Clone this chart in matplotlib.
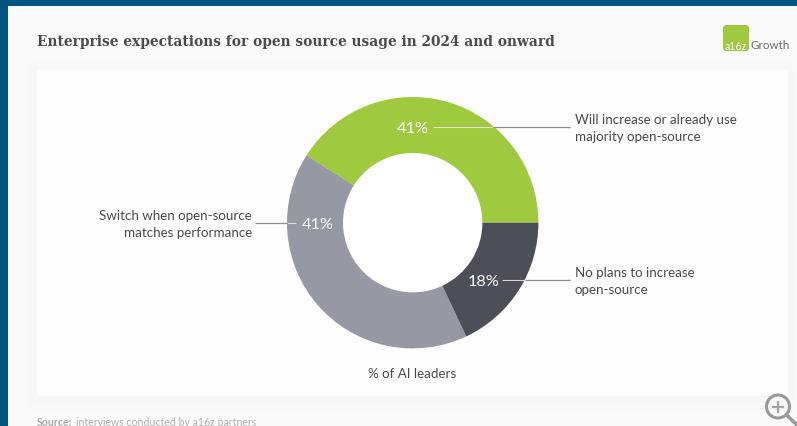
import matplotlib.pyplot as plt
from matplotlib.patches import Circle, FancyBboxPatch, Rectangle

# ---- data ----
CATEGORIES = [
    "Will increase or already use\nmajority open-source",
    "Switch when open-source\nmatches performance",
    "No plans to increase\nopen-source",
]
VALUES = [41, 41, 18]
COLORS = ["#9FC93F", "#9698A3", "#4D4F58"]

TITLE = "Enterprise expectations for open source usage in 2024 and onward"
AXIS_NOTE = "% of AI leaders"

# ---- style ----
W, H = 797, 427
BLUE = "#005482"
PAGE = "#FAFAFA"
CARD = "#FDFDFD"
TEXT = "#4A4B52"
LINE = "#8F9096"
CENTER = (412.7, 223.7)
R_OUT = 125.7
R_IN = 69.7
BODY_FONT = "Lato"
LABEL_SIZE = 9.6

fig = plt.figure(figsize=(W / 100, H / 100), dpi=100, facecolor=PAGE)

# full-figure axes in pixel coordinates, for the page furniture
bg = fig.add_axes([0, 0, 1, 1], zorder=0)
bg.set_xlim(0, W)
bg.set_ylim(H, 0)
bg.axis("off")

bg.add_patch(Rectangle((0, 0), W, 7, color=BLUE, lw=0))
bg.add_patch(Rectangle((0, 0), 8, H, color=BLUE, lw=0))

# soft card shadow
for grow, alpha in [(12, 0.003), (8, 0.004), (4, 0.005)]:
    bg.add_patch(FancyBboxPatch(
        (37 - grow, 71 - grow + 3), 751 + 2 * grow, 326 + 2 * grow,
        boxstyle=f"round,pad=0,rounding_size={grow}",
        fc="black", ec="none", alpha=alpha,
    ))
bg.add_patch(Rectangle((37, 71), 751, 326, fc=CARD, ec="none"))

bg.text(37, 42, TITLE, fontsize=9.9, family="DejaVu Serif", weight="bold",
        color=TEXT, va="center", ha="left")
bg.text(37, 422.5, "Source:", fontsize=7.6, family=BODY_FONT, weight="bold",
        color="#A9A9AD", va="center", ha="left")
bg.text(76.5, 422.5, "interviews conducted by a16z partners", fontsize=7.6,
        family=BODY_FONT, color="#B2B2B6", va="center", ha="left")

# logo
bg.add_patch(FancyBboxPatch(
    (723, 26), 26, 26, boxstyle="round,pad=0,rounding_size=3",
    fc="#9FC93F", ec="none",
))
bg.text(736, 46.5, "a16z", fontsize=7.6, family=BODY_FONT, color="white",
        ha="center", va="center")
bg.text(751, 45.5, "Growth", fontsize=8.4, family=BODY_FONT, color="#6A6B70",
        ha="left", va="center")

# zoom icon
bg.add_patch(Circle((778, 407.5), 11.5, fc="none", ec="#9A9A9A", lw=2.2))
bg.plot([773, 783], [407.5, 407.5], color="#A5A5A5", lw=1.6)
bg.plot([778, 778], [402.5, 412.5], color="#A5A5A5", lw=1.6)
bg.plot([786.5, 797], [416, 426], color="#9A9A9A", lw=2.6)

# donut
cx, cy = CENTER
pie_ax = fig.add_axes(
    [(cx - R_OUT) / W, 1 - (cy + R_OUT) / H, 2 * R_OUT / W, 2 * R_OUT / H],
    zorder=1,
)
pie_ax.pie(
    VALUES,
    colors=COLORS,
    startangle=0,
    counterclock=True,
    radius=1,
    wedgeprops={"width": 1 - R_IN / R_OUT, "linewidth": 0},
)
pie_ax.add_patch(Circle((0, 0), R_IN / R_OUT, fc="white", ec="none", zorder=0))
pie_ax.set_xlim(-1, 1)
pie_ax.set_ylim(-1, 1)
pie_ax.set_aspect("equal")
pie_ax.axis("off")

# overlay for leader lines and labels
top = fig.add_axes([0, 0, 1, 1], zorder=2)
top.set_xlim(0, W)
top.set_ylim(H, 0)
top.axis("off")
top.patch.set_alpha(0)

# (x of value label, y, leader start, ring crossing, leader end)
leaders = [
    (412.7, 128, 433, 493, 570),
    (318, 223.5, 296, 287, 255),
    (484, 281, 502, 525, 570),
]
for value, (tx, ty, start, cross, end) in zip(VALUES, leaders):
    top.plot([start, cross], [ty, ty], color="#E4E6E0", lw=0.8, alpha=0.9,
             solid_capstyle="butt")
    top.plot([cross, end], [ty, ty], color=LINE, lw=0.9, solid_capstyle="butt")
    top.text(tx, ty + 1.5, f"{value}%", fontsize=11.8, family=BODY_FONT, color="white",
             ha="center", va="center")

top.text(575, 129, CATEGORIES[0], fontsize=LABEL_SIZE, family=BODY_FONT, color=TEXT,
         ha="left", va="center", linespacing=1.5)
top.text(252, 224.5, CATEGORIES[1], fontsize=LABEL_SIZE, family=BODY_FONT, color=TEXT,
         ha="right", va="center", linespacing=1.5)
top.text(575, 281.5, CATEGORIES[2], fontsize=LABEL_SIZE, family=BODY_FONT, color=TEXT,
         ha="left", va="center", linespacing=1.5)
top.text(412.5, 374, AXIS_NOTE, fontsize=LABEL_SIZE, family=BODY_FONT, color=TEXT,
         ha="center", va="center")

fig.savefig("out.png", dpi=100, facecolor=PAGE)
plt.close(fig)
